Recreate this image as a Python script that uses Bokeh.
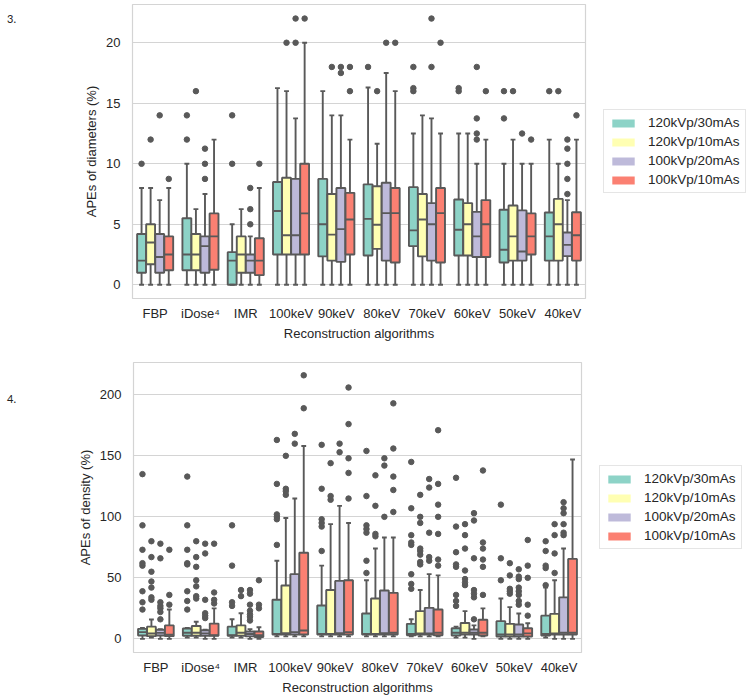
from bokeh.plotting import figure
from bokeh.models import (ColumnDataSource, FactorRange, Range1d, Legend, LegendItem,
                          Div, SingleIntervalTicker)
from bokeh.transform import dodge
from bokeh.layouts import column, row
from bokeh.embed import file_html
from bokeh.resources import INLINE

CATEGORIES = ["FBP", "iDose\u2074", "IMR", "100keV", "90keV", "80keV", "70keV", "60keV", "50keV", "40keV"]
SERIES = ["120kVp/30mAs", "120kVp/10mAs", "100kVp/20mAs", "100kVp/10mAs"]
COLORS = ["#8dd3c7", "#ffffb3", "#bebada", "#fb8072"]

# ---------------- Panel 3: APEs of diameters (%) ----------------
DIAM_LO = [
    [0, 0, 0, 0, 0, 0, 0, 0, 0, 0],
    [0, 0, 0, 0, 0, 0, 0, 0, 0, 0],
    [0, 0, 0, 0, 0, 0, 0, 0, 0, 0],
    [0, 0, 0, 0, 0, 0, 0, 0, 0, 0],
]
DIAM_Q1 = [
    [1.0, 1.2, 0.0, 2.5, 2.35, 2.42, 3.2, 2.42, 1.85, 2.0],
    [1.7, 1.2, 1.0, 2.5, 2.0, 2.97, 2.35, 2.42, 2.0, 2.0],
    [1.0, 1.0, 1.0, 2.5, 1.9, 2.0, 2.0, 2.3, 2.0, 2.37],
    [1.2, 1.25, 0.8, 2.5, 2.5, 1.85, 1.85, 2.3, 2.5, 2.0],
]
DIAM_MED = [
    [2.0, 2.5, 2.0, 6.1, 5.0, 5.45, 4.5, 4.55, 2.9, 4.0],
    [3.5, 2.5, 2.5, 4.1, 4.15, 4.96, 5.4, 5.0, 4.0, 5.0],
    [2.3, 3.2, 2.0, 4.1, 4.6, 5.92, 5.0, 4.0, 2.75, 3.3],
    [2.5, 4.0, 2.0, 5.9, 5.4, 5.92, 5.92, 5.0, 4.0, 4.1],
]
DIAM_Q3 = [
    [4.2, 5.5, 2.7, 8.5, 8.75, 8.3, 8.07, 7.05, 6.2, 5.97],
    [5.0, 4.2, 4.0, 8.85, 7.5, 8.15, 7.5, 6.75, 6.55, 7.1],
    [4.2, 4.0, 2.5, 8.75, 8.0, 8.43, 6.75, 6.03, 6.15, 4.32],
    [4.0, 5.9, 3.85, 10.0, 7.6, 8.0, 8.0, 7.0, 5.9, 6.0],
]
DIAM_HI = [
    [8.0, 10.0, 5.0, 16.25, 16.0, 16.3, 12.5, 12.5, 10.0, 12.0],
    [8.0, 6.25, 6.25, 16.0, 14.0, 11.65, 14.0, 12.5, 12.0, 10.0],
    [7.0, 7.5, 4.0, 13.75, 14.0, 17.5, 13.75, 10.0, 10.0, 7.0],
    [8.0, 12.0, 8.0, 20.0, 12.0, 16.0, 12.5, 12.0, 10.0, 12.0],
]
DIAM_OUT = [
    [[10], [12, 14], [10, 14], [], [], [18], [16, 16.25, 18], [16, 16.25], [13.75, 16], [16]],
    [[12], [16], [], [20], [18], [16], [], [], [16], [16]],
    [[14], [8.75, 10, 11.25], [5, 6.25, 8], [20, 22], [17.5, 18], [20], [18, 22],
     [12, 12.5, 13.75, 18], [12.5], [7.5, 8.75, 10, 11.25, 12]],
    [[8.75], [], [10], [22], [16, 18], [20], [20], [16], [12], [14]],
]

# ---------------- Panel 4: APEs of density (%) ----------------
DENS_LO = [
    [0, 1, 1, 2, 2, 2, 2, 1, 0, 1],
    [1, 1, 1, 2, 2, 2, 2, 1, 0, 0],
    [0, 0, 0, 2, 2, 2, 2, 0, 0, 0],
    [0, 0, 0, 2, 2, 2, 2, 2, 0, 0],
]
DENS_Q1 = [
    [2.7, 2.5, 2.5, 3.5, 3.5, 3.5, 3.0, 2.7, 1.9, 2.7],
    [2.2, 2.5, 2.5, 3.5, 3.5, 3.5, 3.5, 3.5, 1.9, 3.5],
    [2.7, 2.5, 2.0, 3.5, 3.5, 3.5, 3.5, 3.5, 1.9, 3.5],
    [2.2, 2.5, 1.5, 3.5, 3.5, 3.5, 3.0, 2.7, 1.9, 3.5],
]
DENS_MED = [
    [5.5, 5.0, 3.0, 4.0, 4.0, 4.0, 4.0, 5.0, 3.5, 4.0],
    [4.4, 5.0, 5.0, 4.6, 4.0, 4.0, 4.5, 5.0, 3.5, 4.5],
    [4.9, 4.5, 4.0, 5.5, 4.6, 4.6, 4.5, 5.0, 3.5, 5.0],
    [3.3, 3.0, 3.0, 6.8, 5.5, 5.0, 5.0, 5.0, 4.5, 5.0],
]
DENS_Q3 = [
    [8.2, 8.5, 10.0, 32.0, 27.3, 20.8, 12.3, 8.7, 14.5, 19.0],
    [10.0, 10.5, 11.0, 43.7, 40.0, 33.0, 22.7, 13.0, 12.3, 20.5],
    [7.4, 7.0, 6.0, 53.0, 47.5, 39.6, 25.4, 7.6, 11.7, 34.0],
    [11.0, 12.5, 6.0, 70.5, 48.0, 37.7, 24.0, 15.6, 8.7, 65.5],
]
DENS_HI = [
    [9.0, 9.0, 16.0, 64.0, 60.0, 48.0, 16.0, 10.0, 33.0, 42.0],
    [15.8, 14.0, 21.0, 99.0, 94.0, 74.0, 40.0, 22.7, 26.0, 48.0],
    [8.0, 7.5, 8.0, 115.0, 109.0, 83.0, 53.0, 11.0, 20.8, 74.0],
    [24.0, 25.0, 9.5, 158.0, 95.0, 83.0, 52.0, 25.0, 12.8, 147.0],
]
DENS_OUT = [
    [[24, 30, 39, 60, 62, 73, 93, 135], [24, 31, 39, 61, 62, 73, 93, 133], [27, 30, 60, 93],
     [77, 98, 100, 102, 127, 163], [72, 92, 95, 98, 123, 159], [54, 64, 87, 90, 93, 117, 154],
     [41, 45, 53, 77, 79, 85, 107, 145], [27, 31, 36, 59, 61, 71, 92, 132], [48, 66, 110],
     [44, 58, 60, 72, 80]],
    [[32, 34, 42, 47, 55, 67, 80], [33, 35, 43, 48, 59, 67, 80], [35, 40],
     [118, 121, 123, 150], [114, 117, 144], [84, 86, 109, 134],
     [61, 63, 69, 72, 74, 95, 100, 118], [44, 46, 49, 56, 74, 85, 94], [37, 39, 41, 52, 62],
     [54, 70, 85, 94]],
    [[16, 22, 25, 27, 30, 66, 78], [17, 19, 21, 32, 70, 78], [15, 18, 20, 23, 28, 37, 40],
     [160, 168], [153, 160], [100, 142, 148], [64, 67, 87, 124, 131],
     [16, 34, 37, 40, 66, 97, 103], [28, 31, 36, 39, 42, 49, 51, 57],
     [85, 87, 94, 103, 107, 112]],
    [[28, 36, 73], [29, 32, 38, 78], [25, 28, 48], [189, 216], [115, 136, 148, 176, 206],
     [104, 122, 133, 156, 193], [60, 65, 86, 100, 110, 127, 171], [36, 59, 65, 74, 79, 138],
     [19, 28, 50, 60, 81], []],
]

FONT = "Liberation Sans"
TEXT = "#262626"
EDGE = "#595959"
GRID = "#d4d4d4"
LW = 1.9
GROUP_WIDTH = 0.8
BOX_FRAC = 0.98
CAP_FRAC = 0.55
TAG_W = 20


def panel(ylabel, lo, q1, med, q3, hi, outs, yrange, interval,
          fw, fh, mb_left, mb_top, mb_bottom):
    xr = FactorRange(*CATEGORIES, range_padding=0)
    p = figure(frame_width=fw, frame_height=fh, x_range=xr, y_range=Range1d(*yrange),
               output_backend="svg", toolbar_location=None, tools="",
               min_border_left=mb_left, min_border_right=0,
               min_border_top=mb_top, min_border_bottom=mb_bottom)
    n = len(SERIES)
    slot = GROUP_WIDTH / n
    bw = slot * BOX_FRAC
    cw = bw * CAP_FRAC
    legend_items = []
    for k in range(n):
        off = -GROUP_WIDTH / 2 + slot * (k + 0.5)
        src = ColumnDataSource(dict(cat=CATEGORIES, lo=lo[k], q1=q1[k], med=med[k],
                                    q3=q3[k], hi=hi[k]))
        xc = dodge("cat", off, range=xr)
        xl = dodge("cat", off - bw / 2, range=xr)
        xrt = dodge("cat", off + bw / 2, range=xr)
        cl = dodge("cat", off - cw / 2, range=xr)
        crt = dodge("cat", off + cw / 2, range=xr)
        # flat-coloured underlay, used as the legend swatch
        swatch = p.vbar(x=xc, width=bw, top="q3", bottom="q1", source=src,
                        fill_color=COLORS[k], line_color=None)
        p.segment(x0=xc, y0="q3", x1=xc, y1="hi", source=src, line_color=EDGE, line_width=LW)
        p.segment(x0=xc, y0="lo", x1=xc, y1="q1", source=src, line_color=EDGE, line_width=LW)
        p.vbar(x=xc, width=bw, top="q3", bottom="q1", source=src, fill_color=COLORS[k],
               line_color=EDGE, line_width=LW)
        p.segment(x0=xl, y0="med", x1=xrt, y1="med", source=src, line_color=EDGE, line_width=LW)
        p.segment(x0=cl, y0="hi", x1=crt, y1="hi", source=src, line_color=EDGE, line_width=LW)
        p.segment(x0=cl, y0="lo", x1=crt, y1="lo", source=src, line_color=EDGE, line_width=LW)
        ocat, oval = [], []
        for c, vals in zip(CATEGORIES, outs[k]):
            for v in vals:
                ocat.append(c)
                oval.append(v)
        osrc = ColumnDataSource(dict(cat=ocat, val=oval))
        p.scatter(x=xc, y="val", source=osrc, size=5.5, fill_color=EDGE, line_color=EDGE)
        legend_items.append(LegendItem(label=SERIES[k], renderers=[swatch]))

    legend = Legend(items=legend_items, location="center_left", margin=18,
                    padding=5, spacing=4, label_height=15, glyph_width=28, glyph_height=10,
                    label_standoff=11, label_text_font_size="13.5px", label_text_font=FONT,
                    label_text_color=TEXT, border_line_color="#cccccc", border_line_width=1,
                    background_fill_color="white", background_fill_alpha=1.0)
    p.add_layout(legend, "right")

    p.outline_line_color = GRID
    p.outline_line_width = 1.2
    p.xgrid.visible = False
    p.ygrid.grid_line_color = GRID
    p.ygrid.grid_line_width = 1.2
    p.yaxis.ticker = SingleIntervalTicker(interval=interval)
    for ax in (p.xaxis[0], p.yaxis[0]):
        ax.axis_line_color = None
        ax.major_tick_line_color = None
        ax.minor_tick_line_color = None
        ax.major_tick_out = 0
        ax.major_tick_in = 0
        ax.major_label_text_font = FONT
        ax.major_label_text_font_size = "13px"
        ax.major_label_text_color = TEXT
        ax.axis_label_text_font = FONT
        ax.axis_label_text_font_size = "13px"
        ax.axis_label_text_font_style = "normal"
        ax.axis_label_text_color = TEXT
    p.xaxis.axis_label = "Reconstruction algorithms"
    p.xaxis.major_label_standoff = 7
    p.xaxis.axis_label_standoff = 2
    p.yaxis.axis_label = ylabel
    p.yaxis.major_label_standoff = 8
    p.yaxis.axis_label_standoff = 4
    p.background_fill_color = "white"
    p.border_fill_color = "white"
    return p


def tag(text, top):
    return Div(text=text, width=TAG_W, height=30, margin=(0, 0, 0, 0),
               styles={"font-family": "Lato", "font-size": "11px", "color": "#222222",
                       "padding-left": "7px", "padding-top": f"{top}px", "line-height": "12px"})


p1 = panel("APEs of diameters (%)", DIAM_LO, DIAM_Q1, DIAM_MED, DIAM_Q3, DIAM_HI,
           DIAM_OUT, (-1.13, 23.16), 5, 453, 294, 132 - TAG_W, 4, 46)
p2 = panel("APEs of density (%)", DENS_LO, DENS_Q1, DENS_MED, DENS_Q3, DENS_HI,
           DENS_OUT, (-11.2, 226.5), 50, 448, 290, 133 - TAG_W, 18, 38)

layout = column(row(tag("3.", 13), p1), row(tag("4.", 49), p2), spacing=0)
open("out.html", "w").write(file_html(layout, INLINE))
